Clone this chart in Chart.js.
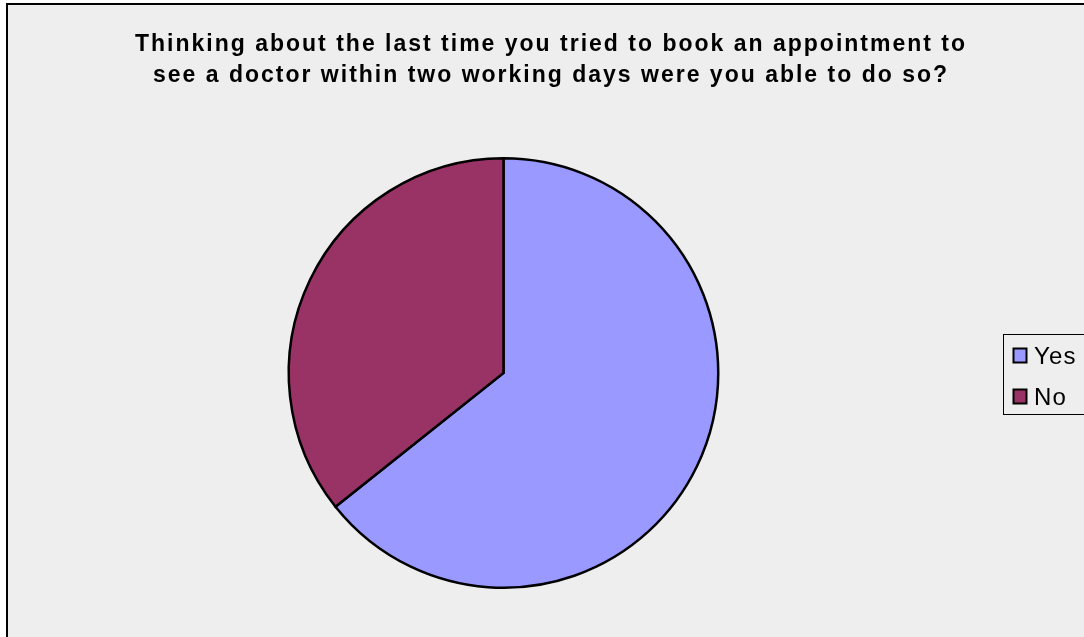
<!DOCTYPE html>
<html>
<head>
<meta charset="utf-8">
<script src="https://cdn.jsdelivr.net/npm/chart.js@4/dist/chart.umd.min.js"></script>
<style>
  html, body { margin: 0; padding: 0; background: #ffffff; }
  #wrap { width: 1084px; height: 637px; position: relative; }
</style>
</head>
<body>
<div id="wrap"><canvas id="c" width="1084" height="637"></canvas></div>
<script>
// Survey answers
const categories = ['Yes', 'No'];
const shares = [64.3, 35.7];
const sliceColors = ['#9999FF', '#993366'];
const titleLines = [
  'Thinking about the last time you tried to book an appointment to',
  'see a doctor within two working days were you able to do so?'
];

const FONT = '"Liberation Sans", Arial, Helvetica, sans-serif';

// Panel background + frame, drawn under everything
const panelPlugin = {
  id: 'panel',
  beforeDraw(chart) {
    const ctx = chart.ctx;
    ctx.save();
    ctx.fillStyle = '#ffffff';
    ctx.fillRect(0, 0, chart.width, chart.height);
    ctx.fillStyle = '#eeeeee';
    ctx.fillRect(8, 5, chart.width, chart.height);
    ctx.strokeStyle = '#000000';
    ctx.lineWidth = 2;
    ctx.beginPath();
    ctx.moveTo(7, chart.height + 5);
    ctx.lineTo(7, 4);
    ctx.lineTo(chart.width + 5, 4);
    ctx.stroke();
    ctx.restore();
  }
};

// Two-line heading with wide tracking
const headingPlugin = {
  id: 'heading',
  afterDraw(chart) {
    const ctx = chart.ctx;
    ctx.save();
    ctx.font = 'bold 23px ' + FONT;
    ctx.fillStyle = '#000000';
    ctx.textAlign = 'center';
    ctx.textBaseline = 'alphabetic';
    ctx.letterSpacing = '2px';
    ctx.fillText(titleLines[0], 551, 51);
    ctx.fillText(titleLines[1], 551, 82);
    ctx.restore();
  }
};

// Boxed legend at the right edge
const legendPlugin = {
  id: 'boxLegend',
  afterDraw(chart) {
    const ctx = chart.ctx;
    const ds = chart.data.datasets[0];
    ctx.save();
    ctx.fillStyle = '#eeeeee';
    ctx.fillRect(1003.5, 334.5, 100, 80);
    ctx.strokeStyle = '#000000';
    ctx.lineWidth = 1;
    ctx.strokeRect(1003.5, 334.5, 100, 80);
    ctx.font = '24px ' + FONT;
    ctx.letterSpacing = '1.2px';
    ctx.textAlign = 'left';
    ctx.textBaseline = 'alphabetic';
    chart.data.labels.forEach((lab, i) => {
      const y = 348.5 + i * 41;
      ctx.fillStyle = ds.backgroundColor[i];
      ctx.fillRect(1013.5, y, 13, 14);
      ctx.lineWidth = 2;
      ctx.strokeStyle = '#000000';
      ctx.strokeRect(1013.5, y, 13, 14);
      ctx.fillStyle = '#000000';
      ctx.fillText(lab, 1034, y + 15);
    });
    ctx.restore();
  }
};

new Chart(document.getElementById('c'), {
  type: 'pie',
  data: {
    labels: categories,
    datasets: [{
      data: shares,
      backgroundColor: sliceColors,
      borderColor: '#000000',
      borderWidth: 2.5,
      borderJoinStyle: 'miter'
    }]
  },
  options: {
    responsive: false,
    animation: false,
    rotation: 0,
    layout: { padding: { left: 287, right: 364, top: 157, bottom: 48 } },
    plugins: {
      legend: { display: false },
      title: { display: false },
      tooltip: { enabled: false }
    }
  },
  plugins: [panelPlugin, headingPlugin, legendPlugin]
});
</script>
</body>
</html>
